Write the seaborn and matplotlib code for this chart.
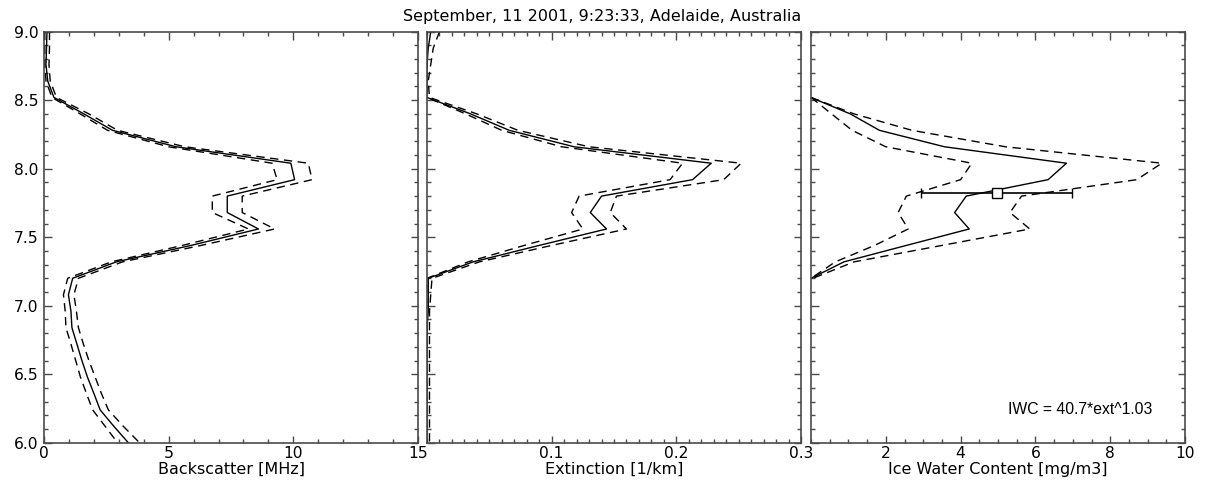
import matplotlib
matplotlib.use("Agg")
import matplotlib.pyplot as plt
from matplotlib.ticker import MultipleLocator, FixedLocator, FormatStrFormatter
import seaborn as sns

# Height grid of the lidar profile [km]
heights = [9.00, 8.88, 8.76, 8.64, 8.52, 8.40, 8.28, 8.16, 8.04, 7.92, 7.80, 7.68, 7.56,
           7.44, 7.32, 7.20, 7.08, 6.96, 6.84, 6.72, 6.60, 6.48, 6.36, 6.24, 6.12, 6.00]

# Backscatter [MHz]: profile and lower / upper bounds
backscatter = [0.12, 0.10, 0.08, 0.15, 0.40, 1.60, 2.75, 5.30, 9.90, 10.05, 7.35, 7.35, 8.60,
               5.90, 2.90, 1.15, 0.98, 1.08, 1.12, 1.32, 1.52, 1.74, 2.00, 2.25, 2.80, 3.38]
backscatter_lo = [0.03, 0.03, 0.03, 0.08, 0.32, 1.45, 2.55, 5.00, 9.15, 9.35, 6.75, 6.75, 8.20,
                  5.55, 2.70, 0.95, 0.78, 0.85, 0.88, 1.08, 1.27, 1.46, 1.70, 1.95, 2.45, 2.95]
backscatter_hi = [0.22, 0.22, 0.20, 0.25, 0.50, 1.80, 2.95, 5.65, 10.60, 10.75, 7.95, 7.95, 9.25,
                  6.30, 3.15, 1.38, 1.20, 1.30, 1.38, 1.58, 1.80, 2.05, 2.30, 2.58, 3.18, 3.83]

# Extinction [1/km]
extinction = [0.003, 0.001, 0.000, 0.000, 0.000, 0.035, 0.066, 0.118, 0.228, 0.213, 0.140, 0.131, 0.144,
              0.090, 0.037, 0.001, 0.001, 0.001, 0.000, 0.000, 0.000, 0.000, 0.000, 0.000, 0.000, 0.000]
extinction_lo = [0.000, 0.000, 0.000, 0.000, 0.000, 0.031, 0.060, 0.108, 0.205, 0.195, 0.122, 0.116, 0.125,
                 0.078, 0.033, 0.000, 0.000, 0.000, 0.000, 0.000, 0.000, 0.000, 0.000, 0.000, 0.000, 0.000]
extinction_hi = [0.010, 0.005, 0.003, 0.001, 0.002, 0.040, 0.073, 0.130, 0.252, 0.238, 0.152, 0.147, 0.160,
                 0.100, 0.042, 0.004, 0.003, 0.002, 0.002, 0.002, 0.002, 0.002, 0.002, 0.002, 0.002, 0.002]

# Ice water content [mg/m3] within the cloud layer
iwc_heights = [8.52, 8.40, 8.28, 8.16, 8.04, 7.92, 7.80, 7.68, 7.56, 7.44, 7.32, 7.20]
iwc = [0.00, 1.05, 1.83, 3.57, 6.83, 6.34, 4.15, 3.84, 4.23, 2.55, 0.88, 0.00]
iwc_lo = [0.00, 0.55, 1.10, 2.00, 4.30, 4.00, 2.55, 2.33, 2.60, 1.70, 0.65, 0.00]
iwc_hi = [0.00, 1.15, 2.70, 5.20, 9.38, 8.71, 5.63, 5.32, 5.85, 3.50, 1.15, 0.05]

# Layer-mean IWC with its spread
iwc_mean = 4.96
iwc_mean_height = 7.82
iwc_mean_err = 2.03

title = "September, 11 2001, 9:23:33, Adelaide, Australia"
xlabels = ["Backscatter [MHz]", "Extinction [1/km]", "Ice Water Content [mg/m3]"]
formula = "IWC = 40.7*ext^1.03"

sns.set_style("ticks")
plt.rcParams["font.family"] = ["DejaVu Sans"]
plt.rcParams["font.size"] = 11.5

W, H = 1205, 487
fig = plt.figure(figsize=(W / 100, H / 100), dpi=100)
bottom_px, top_px = 442.7, 31.7


def make_axes(left, right):
    return fig.add_axes([left / W, (H - bottom_px) / H, (right - left) / W, (bottom_px - top_px) / H])


ax1 = make_axes(44, 418)
ax2 = make_axes(427, 801)
ax3 = make_axes(811, 1185)

spine_col = "#4a4a4a"
solid_kw = dict(color="black", linewidth=1.0, sort=False, estimator=None)
dash_kw = dict(color="black", linewidth=1.0, sort=False, estimator=None, linestyle=(0, (6, 4)))

for ax, y, mid, lo, hi in [
    (ax1, heights, backscatter, backscatter_lo, backscatter_hi),
    (ax2, heights, extinction, extinction_lo, extinction_hi),
    (ax3, iwc_heights, iwc, iwc_lo, iwc_hi),
]:
    sns.lineplot(x=lo, y=y, ax=ax, **dash_kw)
    sns.lineplot(x=hi, y=y, ax=ax, **dash_kw)
    sns.lineplot(x=mid, y=y, ax=ax, **solid_kw)

ax3.errorbar(iwc_mean, iwc_mean_height, xerr=iwc_mean_err, fmt="s", mfc="white", mec="black",
             mew=1.0, ms=6.5, ecolor="black", elinewidth=1.2, capsize=3.3, capthick=1.2, zorder=5)

ax3.text(0.527, 0.08, formula, transform=ax3.transAxes, ha="left", va="center",
         fontsize=11.3, family=["Liberation Sans", "DejaVu Sans"], color="black")

ax1.set_xlim(0, 15)
ax1.xaxis.set_major_locator(FixedLocator([0, 5, 10, 15]))
ax1.xaxis.set_minor_locator(MultipleLocator(1))
ax1.xaxis.set_major_formatter(FormatStrFormatter("%d"))

ax2.set_xlim(0, 0.3)
ax2.xaxis.set_major_locator(FixedLocator([0.1, 0.2, 0.3]))
ax2.xaxis.set_minor_locator(MultipleLocator(0.01))
ax2.xaxis.set_major_formatter(FormatStrFormatter("%.1f"))

ax3.set_xlim(0, 10)
ax3.xaxis.set_major_locator(FixedLocator([2, 4, 6, 8, 10]))
ax3.xaxis.set_minor_locator(MultipleLocator(0.5))
ax3.xaxis.set_major_formatter(FormatStrFormatter("%d"))

for i, (ax, lab) in enumerate(zip([ax1, ax2, ax3], xlabels)):
    ax.set_ylim(6, 9)
    ax.yaxis.set_major_locator(MultipleLocator(0.5))
    ax.yaxis.set_minor_locator(MultipleLocator(0.1))
    ax.yaxis.set_major_formatter(FormatStrFormatter("%.1f"))
    ax.set_ylabel("")
    ax.set_xlabel(lab, fontsize=11.5, color="black")
    ax.xaxis.set_label_coords(0.5, -0.047)
    ax.tick_params(which="both", direction="in", top=True, right=True, colors=spine_col,
                   labelcolor="black", width=1.0, labelsize=11.2)
    ax.tick_params(which="major", length=5.4)
    ax.tick_params(which="minor", length=2.6)
    ax.tick_params(axis="x", which="major", pad=2.5)
    ax.tick_params(axis="y", which="major", pad=4)
    if i > 0:
        ax.tick_params(axis="y", labelleft=False)
    for sp in ax.spines.values():
        sp.set_color(spine_col)
        sp.set_linewidth(1.2)
        sp.set_visible(True)
    ax.set_facecolor("white")

fig.text(0.5, 1 - 17 / H, title, ha="center", va="center", fontsize=11.5, color="black")

fig.savefig("out.png", dpi=100, facecolor="white")
